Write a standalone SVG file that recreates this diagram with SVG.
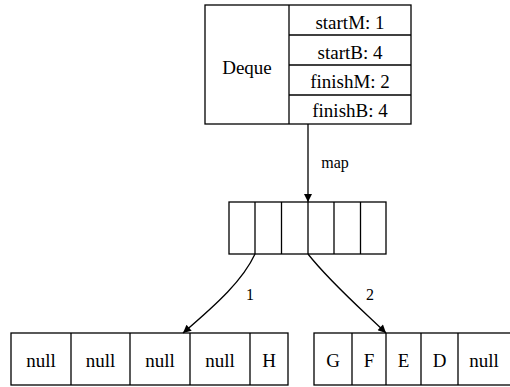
<svg xmlns="http://www.w3.org/2000/svg" width="510" height="387" viewBox="0 0 510 387">
<defs>
<style>
.box{fill:#fff;stroke:#000;stroke-width:1.3}
.ln{fill:none;stroke:#000;stroke-width:1.3}
.t{font-family:"Liberation Serif","Times New Roman",serif;font-size:19px;fill:#000;text-anchor:middle}
.lbl{font-family:"Liberation Serif","Times New Roman",serif;font-size:16px;fill:#000;text-anchor:middle}
</style>
<marker id="ah" viewBox="0 0 10 10" refX="10" refY="5" markerWidth="10" markerHeight="8" markerUnits="userSpaceOnUse" orient="auto">
<path d="M0,0 L10,5 L0,10 z" fill="#000"/>
</marker>
</defs>
<g id="deque">
<rect class="box" x="205" y="5" width="206" height="119"/>
<line class="ln" x1="289" y1="5" x2="289" y2="124"/>
<line class="ln" x1="289" y1="35" x2="411" y2="35"/>
<line class="ln" x1="289" y1="65" x2="411" y2="65"/>
<line class="ln" x1="289" y1="95" x2="411" y2="95"/>
<text class="t" x="247" y="74">Deque</text>
<text class="t" x="350" y="29">startM: 1</text>
<text class="t" x="350" y="58.5">startB: 4</text>
<text class="t" x="350" y="87.5">finishM: 2</text>
<text class="t" x="350" y="117">finishB: 4</text>
</g>
<g id="map">
<rect class="box" x="229" y="202" width="157" height="52"/>
<line class="ln" x1="255" y1="202" x2="255" y2="254"/>
<line class="ln" x1="281.5" y1="202" x2="281.5" y2="254"/>
<line class="ln" x1="308" y1="202" x2="308" y2="254"/>
<line class="ln" x1="334" y1="202" x2="334" y2="254"/>
<line class="ln" x1="360.5" y1="202" x2="360.5" y2="254"/>
</g>
<g id="block1">
<rect class="box" x="11" y="333" width="277" height="52"/>
<line class="ln" x1="71" y1="333" x2="71" y2="385"/>
<line class="ln" x1="130" y1="333" x2="130" y2="385"/>
<line class="ln" x1="190" y1="333" x2="190" y2="385"/>
<line class="ln" x1="250" y1="333" x2="250" y2="385"/>
<text class="t" x="41" y="367">null</text>
<text class="t" x="100.5" y="367">null</text>
<text class="t" x="160" y="367">null</text>
<text class="t" x="220" y="367">null</text>
<text class="t" x="269" y="367">H</text>
</g>
<g id="block2">
<rect class="box" x="314" y="333" width="204" height="52"/>
<line class="ln" x1="352" y1="333" x2="352" y2="385"/>
<line class="ln" x1="386" y1="333" x2="386" y2="385"/>
<line class="ln" x1="421" y1="333" x2="421" y2="385"/>
<line class="ln" x1="458" y1="333" x2="458" y2="385"/>
<text class="t" x="333" y="367">G</text>
<text class="t" x="369" y="367">F</text>
<text class="t" x="403.5" y="367">E</text>
<text class="t" x="439.5" y="367">D</text>
<text class="t" x="484" y="367">null</text>
</g>
<g id="connectors">
<path class="ln" d="M308,124 L308,202" marker-end="url(#ah)"/>
<path class="ln" d="M255,254 C243,280 218,303 183,333" marker-end="url(#ah)"/>
<path class="ln" d="M308,254 C330,282 360,308 386,333" marker-end="url(#ah)"/>
<text class="lbl" x="335" y="168">map</text>
<text class="lbl" x="250" y="300">1</text>
<text class="lbl" x="370" y="300">2</text>
</g>
</svg>
